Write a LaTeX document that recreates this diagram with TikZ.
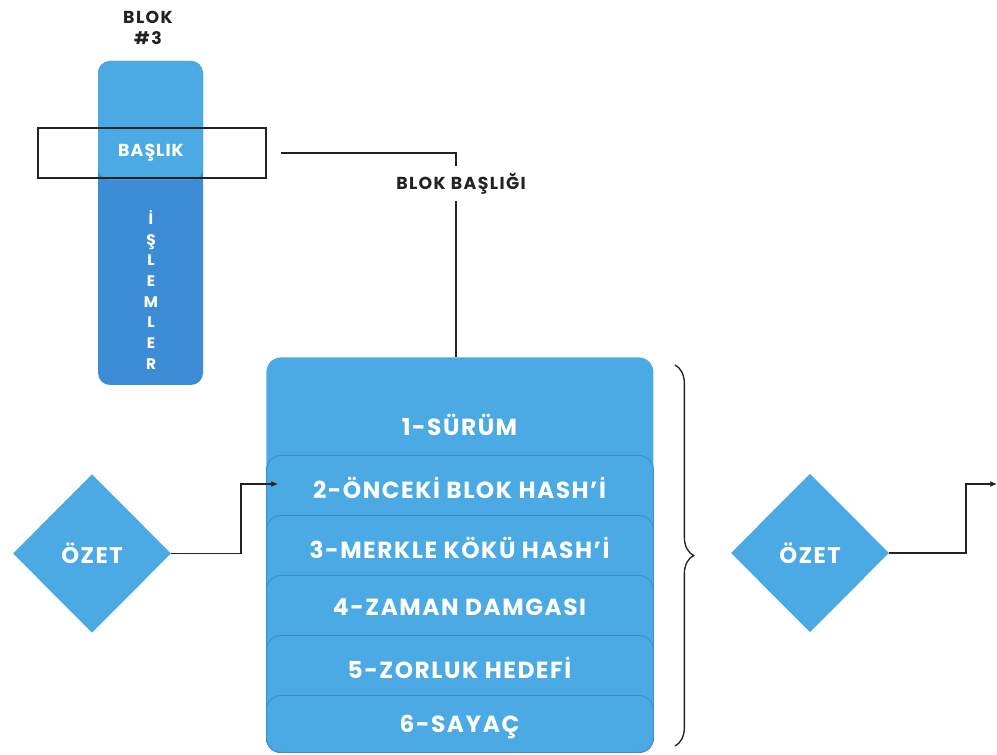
\documentclass[tikz,border=0pt]{standalone}
\usepackage{fontspec}
\setmainfont{Poppins}
\usetikzlibrary{shapes.geometric,arrows.meta,decorations.pathreplacing}
\definecolor{lblue}{HTML}{4BAAE3}
\definecolor{dblue}{HTML}{3C8DD6}
\definecolor{rowline}{HTML}{3A8FCB}
\definecolor{ink}{HTML}{222222}
\begin{document}
\begin{tikzpicture}[x=0.75pt,y=-0.75pt,
  rowbox/.style={draw=rowline,line width=0.6pt,fill=lblue,rounded corners=11pt,anchor=north west,minimum width=290.25pt,inner sep=0pt},
  rowtxt/.style={text=white,font=\bfseries\fontsize{17.5}{19}\selectfont\addfontfeatures{LetterSpace=6.5}},
  dia/.style={diamond,fill=lblue,minimum width=118.5pt,minimum height=119pt,inner sep=0pt,aspect=1,text=white,font=\bfseries\fontsize{17}{18}\selectfont\addfontfeatures{LetterSpace=6.5}},
  lbl/.style={text=ink,font=\bfseries\fontsize{13}{15}\selectfont\addfontfeatures{LetterSpace=8},align=center},
  conn/.style={draw=ink,line width=0.9pt},
  arr/.style={conn,-{Latex[length=5pt,width=4.5pt]}}]
\useasboundingbox (0,0) rectangle (997,755);
% left block bar
\node[fill=dblue,rounded corners=9pt,minimum width=78.75pt,minimum height=243pt,inner sep=0pt,
  path picture={\fill[lblue] (path picture bounding box.north west) rectangle ([yshift=-89pt]path picture bounding box.north east);}]
  (bar) at (150.5,223) {};
\node[text=ink,font=\bfseries\fontsize{13}{15.5}\selectfont\addfontfeatures{LetterSpace=8},align=center] (blok3) at (148,28) {BLOK\\\#3};
\node[text=white,font=\bfseries\fontsize{13}{14}\selectfont\addfontfeatures{LetterSpace=6}] (baslik) at (151,153) {BAŞLIK};
\node[text=white,font=\bfseries\fontsize{11.5}{15.5}\selectfont,align=center] (islem) at (151,290) {İ\\Ş\\L\\E\\M\\L\\E\\R};
\node[draw=ink,line width=0.9pt,minimum width=171pt,minimum height=37.5pt,inner sep=0pt] (hdr) at (152,153) {};
% header label
\node[lbl] (bb) at (461,184) {BLOK BAŞLIĞI};
\coordinate (k1) at (456,166);
\coordinate (k2) at (456,201);
% main block
\node[rowbox,minimum height=296.25pt,draw=none] (main) at (266,357) {};
\node[rowbox,minimum height=222.75pt] (row2) at (266,455) {};
\node[rowbox,minimum height=177.75pt] (row3) at (266,515) {};
\node[rowbox,minimum height=132.75pt] (row4) at (266,575) {};
\node[rowbox,minimum height=87.75pt] (row5) at (266,635) {};
\node[rowbox,minimum height=42.75pt] (row6) at (266,695) {};
\node[rowtxt] (t1) at (459.5,425) {1-SÜRÜM};
\node[rowtxt] (t2) at (459.5,488) {2-ÖNCEKİ BLOK HASH’İ};
\node[rowtxt] (t3) at (459.5,548) {3-MERKLE KÖKÜ HASH’İ};
\node[rowtxt] (t4) at (459.5,607) {4-ZAMAN DAMGASI};
\node[rowtxt] (t5) at (459.5,668) {5-ZORLUK HEDEFİ};
\node[rowtxt] (t6) at (459.5,727) {6-SAYAÇ};
% connectors header
\draw[conn] ([xshift=10.5pt]hdr.east) -| (k1);
\draw[conn] (k2) -- (k2 |- main.north);
% brace
\coordinate (b1) at (675,365);
\coordinate (b2) at (675,746);
\draw[draw=ink,line width=1pt,decorate,decoration={brace,amplitude=14pt}] (b1) -- (b2);
% diamonds
\node[dia] (d1) at (92,553.5) {ÖZET};
\node[dia] (d2) at (810,553) {ÖZET};
\coordinate (in2) at (278,484);
\coordinate (out) at (997,484);
\draw[arr] (d1.east) -- (241,553.5) |- (in2);
\draw[arr] (d2.east) -- (966,553) |- (out);
\end{tikzpicture}
\end{document}
